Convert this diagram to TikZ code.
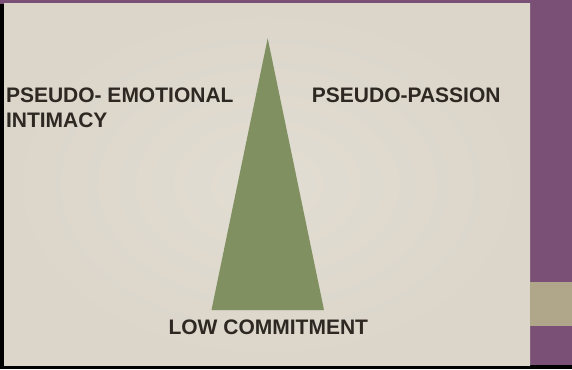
\documentclass[tikz,border=0pt]{standalone}
\usepackage{fontspec}
\setmainfont{Liberation Sans}
\definecolor{slidepurple}{RGB}{122,80,118}
\definecolor{slidebeige}{RGB}{226,221,210}
\definecolor{slideedge}{RGB}{219,213,202}
\definecolor{slidetan}{RGB}{176,167,138}
\definecolor{coneolive}{RGB}{128,144,97}
\definecolor{labelink}{RGB}{45,40,34}
\begin{document}
\begin{tikzpicture}[x=1pt, y=-1pt, lbl/.style={inner sep=0pt, text=labelink, font=\fontsize{21}{24.7}\selectfont\bfseries}]
		\useasboundingbox (0,0) rectangle (572,369);
		\fill[slidepurple] (0,0) rectangle (572,369);
		\fill[black] (0,4) rectangle (4,369);
		\fill[black] (0,365) rectangle (572,369);
		\shade[inner color=slidebeige, outer color=slideedge] (4,4) rectangle (530,365);
		\fill[slidetan] (530,282) rectangle (572,326);
		\fill[coneolive] (267.7,38.3) -- (324,310) -- (211.5,310) -- cycle;
		\node[lbl, anchor=base west, align=left] (emotional) at (5.8,127.2) {PSEUDO- EMOTIONAL\\INTIMACY};
		\node[lbl, anchor=base west] (passion) at (311.7,102.7) {PSEUDO-PASSION};
		\node[lbl, anchor=base] (commitment) at (268.3,334) {LOW COMMITMENT};
		\end{tikzpicture}
\end{document}
